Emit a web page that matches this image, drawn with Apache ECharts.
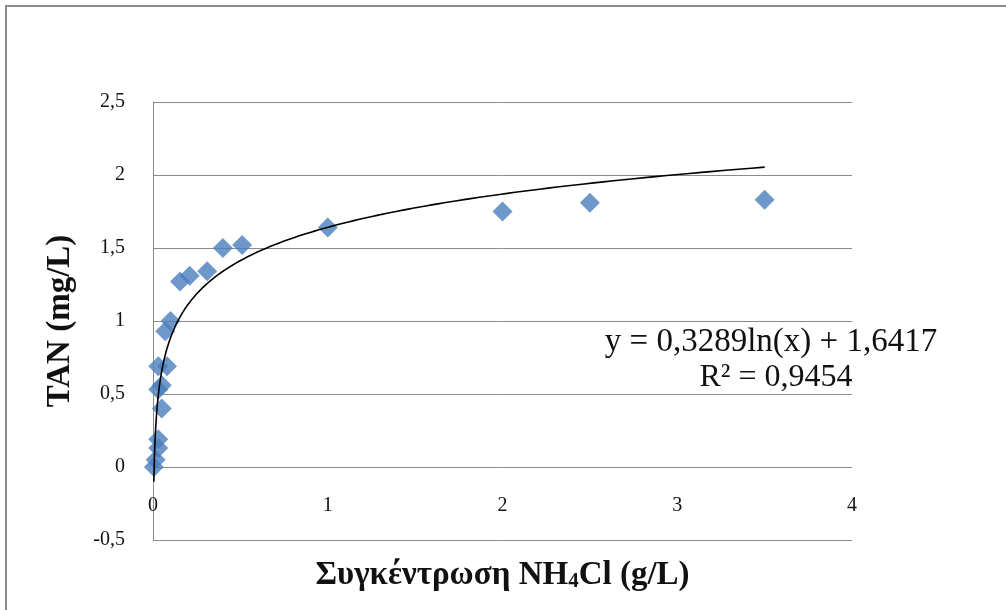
<!DOCTYPE html>
<html>
<head>
<meta charset="utf-8">
<script src="https://cdn.jsdelivr.net/npm/echarts@6/dist/echarts.min.js"></script>
<style>
html,body{margin:0;padding:0;background:#fff;}
#chart{width:1006px;height:610px;}
</style>
</head>
<body>
<div id="chart"></div>
<script>
// Measured data (NH4Cl concentration g/L vs TAN mg/L)
var xValues = [0.005, 0.015, 0.03, 0.03, 0.05, 0.03, 0.05, 0.03, 0.08, 0.07, 0.1, 0.155, 0.21, 0.31, 0.40, 0.51, 1.0, 2.0, 2.5, 3.5];
var yValues = [0.00, 0.05, 0.13, 0.19, 0.40, 0.53, 0.56, 0.69, 0.69, 0.93, 1.00, 1.27, 1.31, 1.34, 1.50, 1.52, 1.64, 1.75, 1.81, 1.83];

// Logarithmic trendline as printed on the chart
var trendA = 0.3289;
var trendB = 1.6417;
var trendXMin = 0.005;
var trendXMax = 3.5;
var equationText = 'y = 0,3289ln(x) + 1,6417';
var r2Text = 'R² = 0,9454';

// Axis ticks
var xTicks = [0, 1, 2, 3, 4];
var yTicks = [-0.5, 0, 0.5, 1, 1.5, 2, 2.5];

var xTitle = 'Συγκέντρωση NH';
var yTitle = 'TAN (mg/L)';

var scatterData = xValues.map(function (x, i) { return [x, yValues[i]]; });
var trendData = [];
var nT = 300;
for (var i = 0; i <= nT; i++) {
  var lx = Math.log(trendXMin) + (Math.log(trendXMax) - Math.log(trendXMin)) * i / nT;
  var x = Math.exp(lx);
  trendData.push([x, trendA * Math.log(x) + trendB]);
}

function comma(v) { return String(v).replace('.', ','); }

var serif = '"Liberation Serif", "Times New Roman", serif';
var chart = echarts.init(document.getElementById('chart'));
chart.setOption({
  animation: false,
  backgroundColor: '#fff',
  grid: { left: 153, right: 154, top: 102, bottom: 70, containLabel: false, outerBoundsMode: 'none' },
  xAxis: {
    type: 'value',
    position: 'bottom',
    min: xTicks[0], max: xTicks[xTicks.length - 1], interval: 1,
    axisLine: { show: false, onZero: false },
    axisTick: { show: false },
    splitLine: { show: false },
    axisLabel: { fontFamily: serif, fontSize: 20, color: '#111', margin: -44, formatter: comma },
    name: '{t|' + xTitle + '}{s|4}{t|Cl (g/L)}',
    nameLocation: 'middle',
    nameGap: 18,
    nameTextStyle: {
      rich: {
        t: { fontFamily: serif, fontSize: 33, fontWeight: 'bold', color: '#111' },
        s: { fontFamily: serif, fontSize: 21, fontWeight: 'bold', color: '#111', verticalAlign: 'bottom', padding: [13, 0, 0, 0] }
      }
    }
  },
  yAxis: {
    type: 'value',
    min: yTicks[0], max: yTicks[yTicks.length - 1], interval: 0.5,
    axisLine: { show: true, onZero: false, lineStyle: { color: '#8a8a8a', width: 1 } },
    axisTick: { show: false },
    splitLine: { show: true, lineStyle: { color: '#8a8a8a', width: 1 } },
    axisLabel: { fontFamily: serif, fontSize: 20, color: '#111', margin: 28, formatter: comma },
    name: yTitle,
    nameLocation: 'middle',
    nameRotate: 90,
    nameGap: 76,
    nameTextStyle: { fontFamily: serif, fontSize: 33, fontWeight: 'bold', color: '#111' }
  },
  series: [
    {
      type: 'scatter',
      data: scatterData,
      symbol: 'diamond',
      symbolSize: 20,
      itemStyle: { color: '#4A7EBB' },
      z: 3
    },
    {
      type: 'line',
      data: trendData,
      showSymbol: false,
      symbol: 'none',
      lineStyle: { color: '#000', width: 1.6 },
      z: 4,
      silent: true
    }
  ],
  graphic: [
    {
      type: 'rect',
      shape: { x: 6, y: 6, width: 1010, height: 620 },
      style: { fill: 'none', stroke: '#8c8c8c', lineWidth: 2 },
      silent: true
    },
    {
      type: 'text',
      x: 771, y: 342,
      style: { text: equationText, font: '33px ' + serif, fill: '#111', textAlign: 'center', textVerticalAlign: 'middle' },
      z: 10
    },
    {
      type: 'text',
      x: 776, y: 378,
      style: { text: r2Text, font: '32px ' + serif, fill: '#111', textAlign: 'center', textVerticalAlign: 'middle' },
      z: 10
    }
  ]
});
</script>
</body>
</html>
